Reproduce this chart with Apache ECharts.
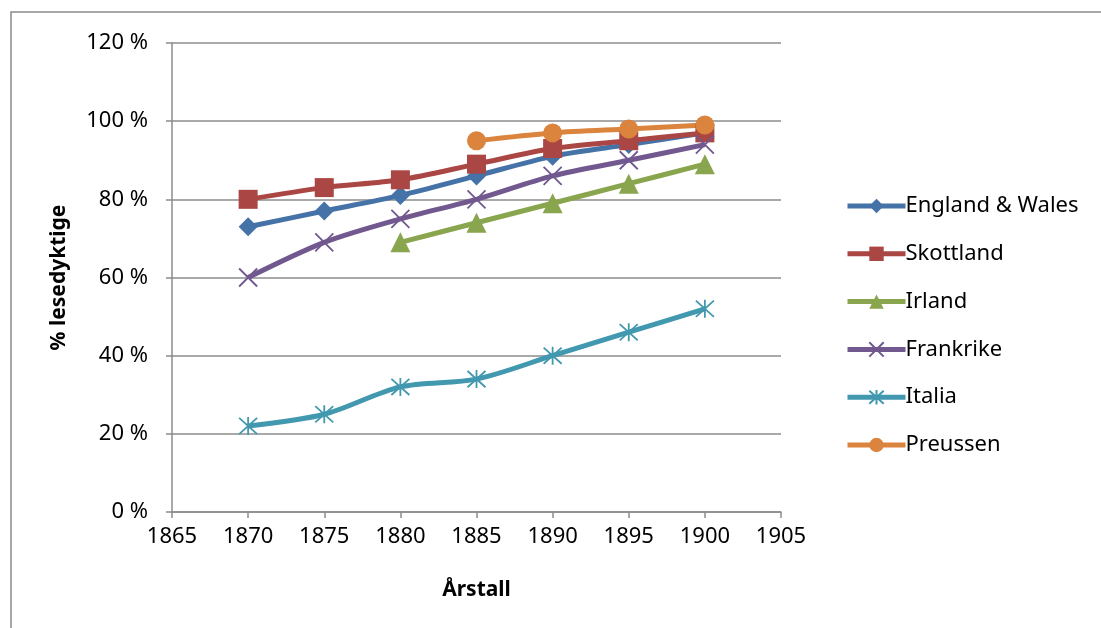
<!DOCTYPE html>
<html>
<head>
<meta charset="utf-8">
<script src="https://cdn.jsdelivr.net/npm/echarts@6/dist/echarts.min.js"></script>
<style>
html,body{margin:0;padding:0;background:#fff;}
#c{width:1101px;height:628px;}
</style>
</head>
<body>
<div id="c"></div>
<script>
const years = [1870, 1875, 1880, 1885, 1890, 1895, 1900];
const xTicks = [1865, 1870, 1875, 1880, 1885, 1890, 1895, 1900, 1905];
const yTicks = [0, 20, 40, 60, 80, 100, 120];
const englandWales = [73, 77, 81, 86, 91, 94, 97];
const skottland = [80, 83, 85, 89, 93, 95, 97];
const irland = [null, null, 69, 74, 79, 84, 89];
const frankrike = [60, 69, 75, 80, 86, 90, 94];
const italia = [22, 25, 32, 34, 40, 46, 52];
const preussen = [null, null, null, 95, 97, 98, 99];

const pair = arr => years.map((y, i) => [y, arr[i]]).filter(p => p[1] !== null);

const FONT = 'Noto Sans';
const XSYM = 'path://M0,0L10,10M10,0L0,10';
const STAR = 'path://M5,0L5,10M0.5,0.5L9.5,9.5M9.5,0.5L0.5,9.5';

function mk(name, data, color, symbol, size, stroke) {
  const s = {
    name: name,
    type: 'line',
    data: pair(data),
    smooth: 0.3,
    symbol: symbol,
    symbolSize: size,
    showSymbol: true,
    lineStyle: { color: color, width: 5 },
    itemStyle: { color: color },
    emphasis: { disabled: true },
    z: 2
  };
  if (stroke) {
    s.itemStyle = { color: 'rgba(0,0,0,0)', borderColor: color, borderWidth: 1.8 };
  }
  return s;
}

const chart = echarts.init(document.getElementById('c'));
chart.setOption({
  animation: false,
  backgroundColor: '#fff',
  graphic: [{
    type: 'rect',
    shape: { x: 11, y: 12, width: 1100, height: 630 },
    style: { fill: 'none', stroke: '#8a8a8a', lineWidth: 1.5 },
    silent: true
  }],
  grid: { left: 172, right: 320, top: 43, bottom: 116 },
  legend: {
    orient: 'vertical',
    left: 840,
    top: 190,
    itemWidth: 58,
    itemHeight: 18,
    itemGap: 25.8,
    lineStyle: { width: 5 },
    textStyle: { fontFamily: FONT, fontSize: 22, color: '#000', padding: [0,0,0,-5] },
    data: ['England & Wales', 'Skottland', 'Irland', 'Frankrike', 'Italia', 'Preussen']
  },
  xAxis: {
    type: 'value',
    min: xTicks[0],
    max: xTicks[xTicks.length - 1],
    interval: 5,
    name: 'Årstall',
    nameLocation: 'middle',
    nameGap: 68,
    nameTextStyle: { fontFamily: FONT, fontSize: 21, fontWeight: 'bold', color: '#000' },
    axisLine: { lineStyle: { color: '#8c8c8c', width: 1.5 } },
    axisTick: { show: true, length: 6, lineStyle: { color: '#8c8c8c', width: 1.5 } },
    axisLabel: { fontFamily: FONT, fontSize: 22, color: '#000', margin: 14, formatter: v => String(v) },
    splitLine: { show: false }
  },
  yAxis: {
    type: 'value',
    min: yTicks[0],
    max: yTicks[yTicks.length - 1],
    interval: 20,
    name: '% lesedyktige',
    nameLocation: 'middle',
    nameGap: 102,
    nameTextStyle: { fontFamily: FONT, fontSize: 21, fontWeight: 'bold', color: '#000' },
    axisLine: { show: true, lineStyle: { color: '#8c8c8c', width: 1.5 } },
    axisTick: { show: true, length: 6, lineStyle: { color: '#8c8c8c', width: 1.5 } },
    axisLabel: { fontFamily: FONT, fontSize: 22, color: '#000', margin: 24, formatter: '{value} %' },
    splitLine: { show: true, lineStyle: { color: '#8c8c8c', width: 1.5 } }
  },
  series: [
    mk('England & Wales', englandWales, '#4572A7', 'diamond', 19),
    mk('Skottland', skottland, '#AA4643', 'rect', 19),
    mk('Irland', irland, '#89A54E', 'triangle', 20),
    mk('Frankrike', frankrike, '#71588F', XSYM, 18, true),
    mk('Italia', italia, '#4198AF', STAR, 18, true),
    mk('Preussen', preussen, '#DB843D', 'circle', 19)
  ]
});
</script>
</body>
</html>
